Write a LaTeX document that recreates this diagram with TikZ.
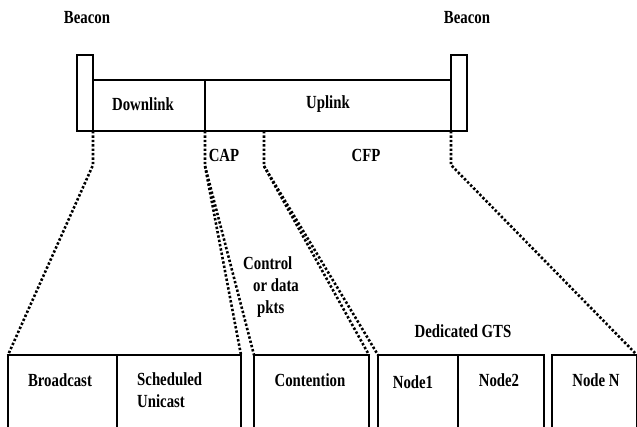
\documentclass[tikz,border=0pt]{standalone}
\usepackage{fontspec}
\setmainfont{Liberation Serif}[FakeStretch=0.8]
\begin{document}
\begin{tikzpicture}[x=1pt,y=-1pt,
  box/.style={draw=black,line width=1.6pt,rectangle,inner sep=0pt,outer sep=0pt,anchor=north west},
  txt/.style={inner sep=0pt,font=\fontsize{18.5}{22}\selectfont\bfseries},
  dots/.style={draw=black,line width=2.6pt,dash pattern=on 2.4pt off 2pt}]
\useasboundingbox (0,0) rectangle (637,427);
% top frame
\node[box,minimum width=16pt,minimum height=76pt] (bL) at (77,55) {};
\node[box,minimum width=112pt,minimum height=51pt] (down) at (93,80) {};
\node[box,minimum width=246pt,minimum height=51pt] (up) at (205,80) {};
\node[box,minimum width=16pt,minimum height=76pt] (bR) at (451,55) {};
% bottom boxes
\node[box,minimum width=109pt,minimum height=74pt] (bc) at (8,355) {};
\node[box,minimum width=124pt,minimum height=74pt] (su) at (117,355) {};
\node[box,minimum width=115pt,minimum height=74pt] (ct) at (254,355) {};
\node[box,minimum width=80pt,minimum height=74pt] (n1) at (378,355) {};
\node[box,minimum width=86pt,minimum height=74pt] (n2) at (458,355) {};
\node[box,minimum width=85pt,minimum height=74pt] (nN) at (552,355) {};
% texts
\node[txt] (tbl) at (87,18) {Beacon};
\node[txt] (tbr) at (467,18) {Beacon};
\node[txt] (tdown) at (143,104) {Downlink};
\node[txt] (tup) at (328,104) {Uplink};
\node[txt] (tcap) at (224,155) {CAP};
\node[txt] (tcfp) at (366,155) {CFP};
\node[txt,align=left,anchor=north west] (tctl) at (243,256) {Control\\\hspace{10pt}or data\\\hspace{14pt}pkts};
\node[txt] (tgts) at (463,331) {Dedicated GTS};
\node[txt] (tbc) at (60,380) {Broadcast};
\node[txt,align=left,anchor=north west] (tsu) at (137,372) {Scheduled\\Unicast};
\node[txt] (tct) at (310,380) {Contention};
\node[txt] (tn1) at (413,382) {Node1};
\node[txt] (tn2) at (499,380) {Node2};
\node[txt] (tnN) at (596,380) {Node N};
% dotted connectors
\coordinate (k1) at (93,165);
\coordinate (k2) at (205,166);
\coordinate (cfp) at ([xshift=59pt]up.south west);
\coordinate (k3) at (264,166);
\coordinate (k4) at (451,165);
\draw[dots] (down.south west) -- (k1) -- (bc.north west);
\draw[dots] (up.south west) -- (k2) -- (su.north east);
\draw[dots] (k2) -- (ct.north west);
\draw[dots] (cfp) -- (k3) -- (ct.north east);
\draw[dots] (k3) -- (n1.north west);
\draw[dots] (up.south east) -- (k4) -- (nN.north east);
\end{tikzpicture}
\end{document}
